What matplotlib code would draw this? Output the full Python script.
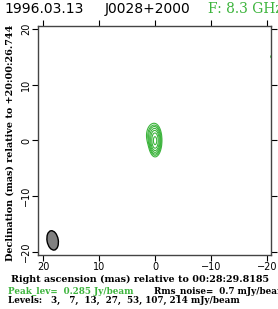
import numpy as np
import matplotlib.pyplot as plt
from matplotlib.patches import Ellipse

# Header / annotation text
obs_date = "1996.03.13"
source_name = "J0028+2000"
freq_text = "F: 8.3 GHz"
ra_ref = "00:28:29.8185"
dec_ref = "+20:00:26.744"
peak_lev = 0.285          # Jy/beam
rms_noise = 0.7           # mJy/beam
levels_mjy = [3, 7, 13, 27, 53, 107, 214]

# Source model components (x_mas, y_mas, flux_mJy, sigma_x, sigma_y)
comp_x = [0.0, 0.35]
comp_y = [-0.1, 0.9]
comp_flux = [265, 30]
comp_sx = [0.40, 0.55]
comp_sy = [0.95, 0.95]

# faint patch near the right edge
blob_x, blob_y, blob_flux = -20.9, 15.0, 4.0

# restoring beam (centre, width, height in mas, angle deg)
beam_x, beam_y = 18.3, -17.9
beam_w, beam_h, beam_ang = 2.0, 3.5, -10

green = "#3cb43c"

# build the model map on a grid
x = np.linspace(22, -22, 500)
y = np.linspace(-22, 22, 500)
X, Y = np.meshgrid(x, y)
img = np.zeros_like(X)
for cx, cy, f, sx, sy in zip(comp_x, comp_y, comp_flux, comp_sx, comp_sy):
    img += f * np.exp(-((X - cx)**2 / (2*sx**2) + (Y - cy)**2 / (2*sy**2)))
img += blob_flux * np.exp(-((X - blob_x)**2 + (Y - blob_y)**2) / (2*0.35**2))

fig = plt.figure(figsize=(2.78, 3.09), dpi=100)
ax = fig.add_axes([0.137, 0.175, 0.838, 0.741])

ax.contour(X, Y, img, levels=levels_mjy, colors=green, linewidths=0.8)
ax.add_patch(Ellipse((beam_x, beam_y), beam_w, beam_h, angle=beam_ang,
                     facecolor="#808080", edgecolor="black", lw=1.0))

ax.set_xlim(20.9, -20.7)
ax.set_ylim(-20.5, 20.5)
ax.set_xticks([20, 10, 0, -10, -20])
ax.set_yticks([-20, -10, 0, 10, 20])
ax.tick_params(direction="out", length=4, width=0.8, top=True, right=True,
               labelsize=7, pad=1)
ax.set_yticklabels([str(v).replace("-", "\u2212") for v in [-20, -10, 0, 10, 20]],
                   rotation=90, va="center")
for s in ax.spines.values():
    s.set_linewidth(1.0)
    s.set_color("#444444")

serif = "DejaVu Serif"
fig.text(0.505, 0.095, "Right ascension (mas) relative to " + ra_ref,
         ha="center", va="center", fontsize=6.9, fontweight="bold", family=serif)
fig.text(0.035, 0.539, "Declination (mas) relative to " + dec_ref,
         rotation=90, ha="center", va="center",
         fontsize=6.9, fontweight="bold", family=serif)

fig.text(0.015, 0.971, obs_date, fontsize=10, va="center")
fig.text(0.375, 0.971, source_name, fontsize=10, va="center")
fig.text(0.75, 0.971, freq_text, fontsize=10, va="center", color=green, family=serif)

fig.text(0.03, 0.058, "Peak_lev=  %.3f Jy/beam" % peak_lev,
         fontsize=6.3, color=green, family=serif, fontweight="bold", va="center")
fig.text(0.555, 0.058, "Rms_noise=  %.1f mJy/beam" % rms_noise,
         fontsize=6.3, family=serif, fontweight="bold", va="center")
fig.text(0.03, 0.027, "Levels: " + ", ".join("%3d" % v for v in levels_mjy) + " mJy/beam",
         fontsize=6.3, family=serif, fontweight="bold", va="center")

fig.savefig("out.png", dpi=100)
